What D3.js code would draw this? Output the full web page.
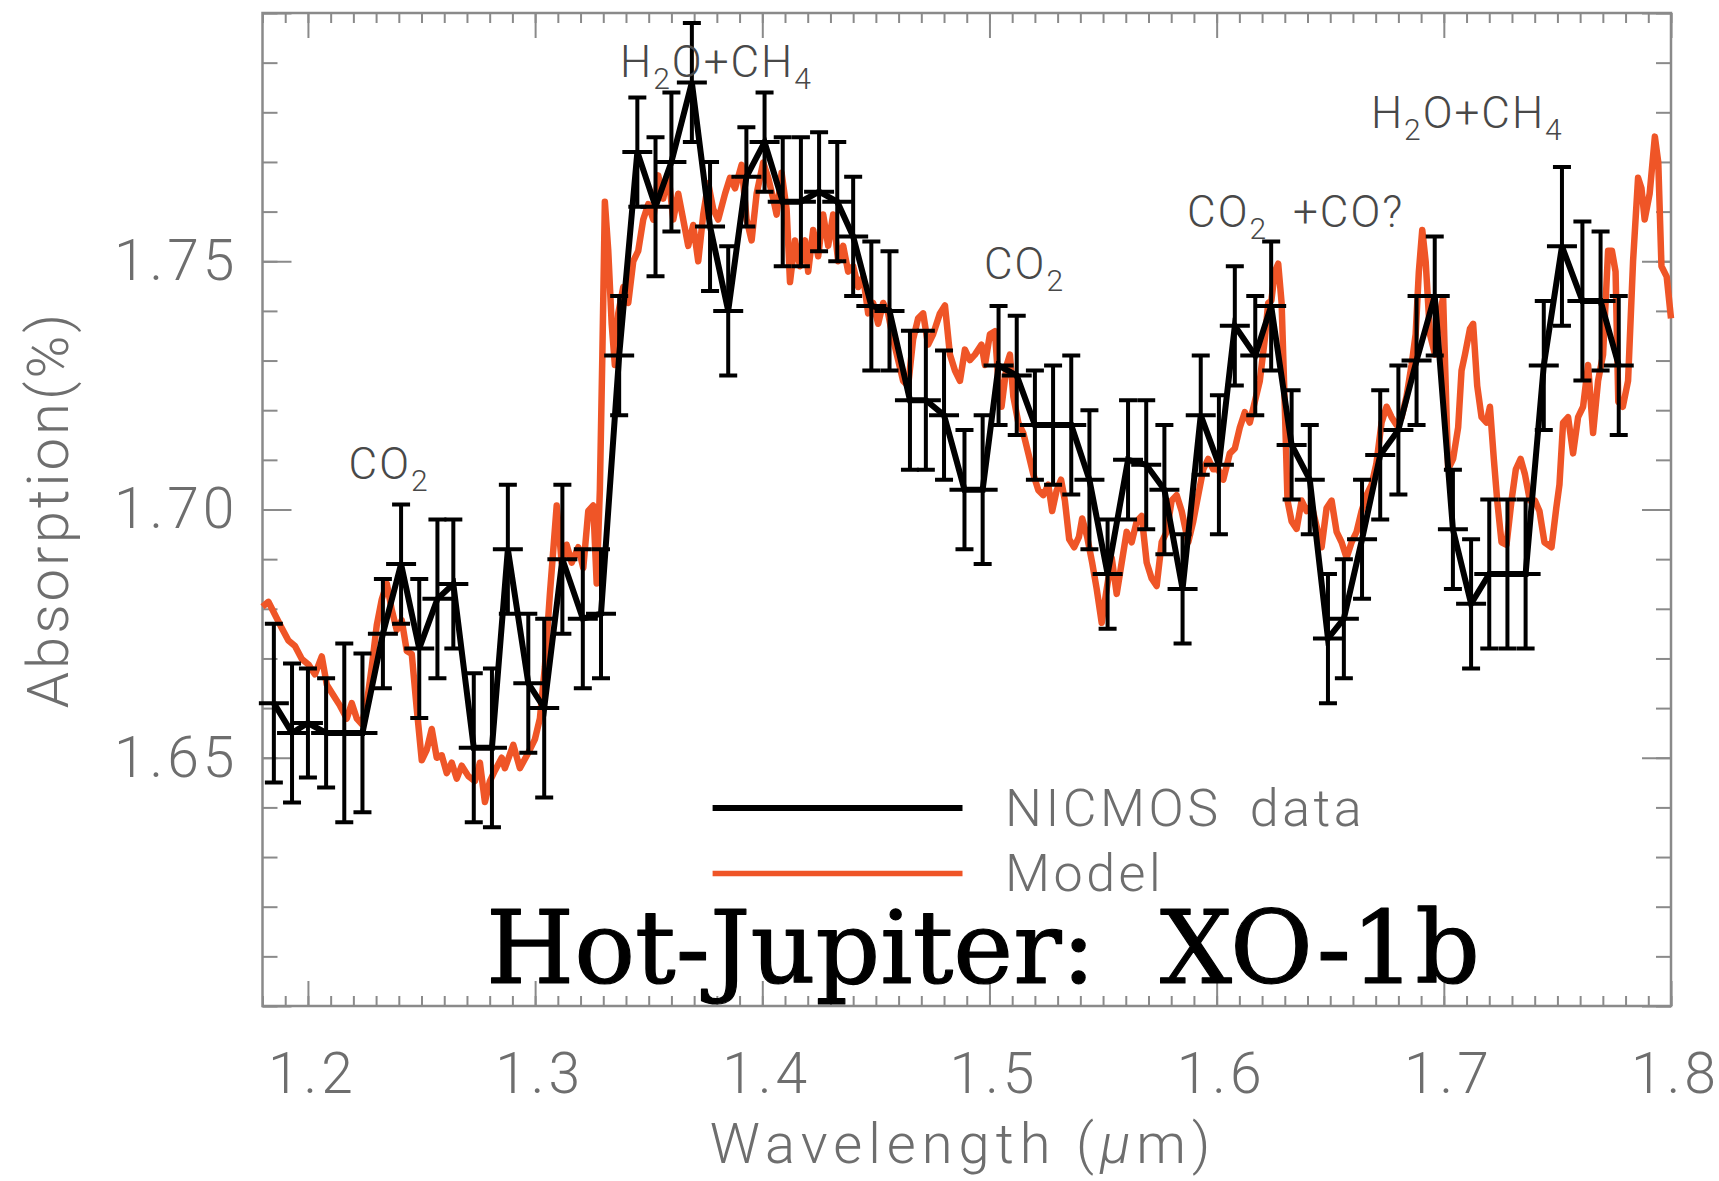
<!DOCTYPE html>
<html>
<head>
<meta charset="utf-8">
<script src="https://cdn.jsdelivr.net/npm/d3@7"></script>
<style>
  body { margin: 0; background: #fff; }
  .idl { font-family: Roboto, "Liberation Sans", Arial, sans-serif; font-weight: 300; }
</style>
</head>
<body>
<div id="chart"></div>
<script>

// NICMOS transmission points (wavelength in micron, absorption in %, 1-sigma error)
var dataWave = [1.185, 1.193, 1.200, 1.208, 1.216, 1.224, 1.233, 1.241, 1.249, 1.257,
  1.264, 1.273, 1.281, 1.288, 1.297, 1.304, 1.312, 1.321, 1.329, 1.337,
  1.345, 1.353, 1.360, 1.369, 1.377, 1.385, 1.393, 1.401, 1.409, 1.417,
  1.425, 1.433, 1.440, 1.448, 1.456, 1.465, 1.472, 1.480, 1.489, 1.497,
  1.504, 1.512, 1.520, 1.528, 1.536, 1.544, 1.552, 1.561, 1.569, 1.577,
  1.585, 1.593, 1.601, 1.608, 1.617, 1.624, 1.633, 1.641, 1.649, 1.656,
  1.664, 1.672, 1.680, 1.688, 1.696, 1.704, 1.712, 1.720, 1.728, 1.736,
  1.744, 1.752, 1.761, 1.769, 1.777];
var dataAbs = [1.661, 1.655, 1.657, 1.655, 1.655, 1.655, 1.675, 1.689, 1.672, 1.682,
  1.685, 1.652, 1.652, 1.692, 1.665, 1.660, 1.690, 1.678, 1.679, 1.731,
  1.772, 1.761, 1.770, 1.786, 1.757, 1.740, 1.767, 1.774, 1.762, 1.762,
  1.764, 1.762, 1.755, 1.741, 1.740, 1.722, 1.722, 1.719, 1.704, 1.704,
  1.729, 1.727, 1.717, 1.717, 1.717, 1.706, 1.687, 1.710, 1.709, 1.704,
  1.684, 1.719, 1.709, 1.737, 1.731, 1.741, 1.713, 1.706, 1.674, 1.678,
  1.694, 1.711, 1.716, 1.730, 1.743, 1.696, 1.681, 1.687, 1.687, 1.687,
  1.729, 1.753, 1.742, 1.742, 1.729];
var dataErr = [0.016, 0.014, 0.011, 0.011, 0.018, 0.016, 0.011, 0.012, 0.014, 0.016,
  0.013, 0.015, 0.016, 0.013, 0.014, 0.018, 0.015, 0.014, 0.013, 0.012,
  0.011, 0.014, 0.014, 0.012, 0.013, 0.013, 0.010, 0.010, 0.013, 0.013,
  0.012, 0.012, 0.012, 0.013, 0.012, 0.014, 0.014, 0.013, 0.012, 0.015,
  0.012, 0.012, 0.011, 0.012, 0.014, 0.014, 0.011, 0.012, 0.013, 0.013,
  0.011, 0.012, 0.014, 0.012, 0.012, 0.013, 0.011, 0.011, 0.013, 0.012,
  0.012, 0.013, 0.013, 0.013, 0.012, 0.012, 0.013, 0.015, 0.015, 0.015,
  0.013, 0.016, 0.016, 0.014, 0.014];

// Model spectrum
var modelWave = [1.1800, 1.1826, 1.1855, 1.1884, 1.1914, 1.1943, 1.1973, 1.2002, 1.2031, 1.2061,
  1.2083, 1.2112, 1.2141, 1.2171, 1.2193, 1.2215, 1.2237, 1.2259, 1.2281, 1.2303,
  1.2325, 1.2347, 1.2369, 1.2391, 1.2413, 1.2435, 1.2457, 1.2479, 1.2501, 1.2523,
  1.2545, 1.2567, 1.2589, 1.2611, 1.2633, 1.2655, 1.2677, 1.2706, 1.2735, 1.2757,
  1.2779, 1.2801, 1.2823, 1.2853, 1.2867, 1.2904, 1.2933, 1.2970, 1.2999, 1.3021,
  1.3043, 1.3065, 1.3095, 1.3117, 1.3139, 1.3161, 1.3190, 1.3212, 1.3234, 1.3256,
  1.3271, 1.3285, 1.3296, 1.3307, 1.3322, 1.3337, 1.3351, 1.3366, 1.3388, 1.3410,
  1.3432, 1.3454, 1.3476, 1.3498, 1.3520, 1.3542, 1.3564, 1.3586, 1.3608, 1.3630,
  1.3652, 1.3674, 1.3696, 1.3718, 1.3740, 1.3762, 1.3784, 1.3806, 1.3836, 1.3858,
  1.3880, 1.3909, 1.3931, 1.3953, 1.3975, 1.4004, 1.4026, 1.4048, 1.4063, 1.4085,
  1.4107, 1.4122, 1.4144, 1.4166, 1.4188, 1.4202, 1.4224, 1.4246, 1.4268, 1.4290,
  1.4312, 1.4334, 1.4356, 1.4378, 1.4400, 1.4422, 1.4444, 1.4466, 1.4488, 1.4510,
  1.4532, 1.4554, 1.4576, 1.4598, 1.4620, 1.4642, 1.4664, 1.4686, 1.4708, 1.4730,
  1.4752, 1.4782, 1.4804, 1.4826, 1.4848, 1.4870, 1.4892, 1.4914, 1.4936, 1.4965,
  1.4980, 1.5002, 1.5024, 1.5039, 1.5053, 1.5076, 1.5090, 1.5105, 1.5127, 1.5149,
  1.5171, 1.5193, 1.5215, 1.5237, 1.5259, 1.5276, 1.5296, 1.5315, 1.5332, 1.5351,
  1.5373, 1.5394, 1.5408, 1.5430, 1.5452, 1.5472, 1.5494, 1.5516, 1.5538, 1.5560,
  1.5582, 1.5604, 1.5626, 1.5648, 1.5670, 1.5692, 1.5714, 1.5736, 1.5758, 1.5780,
  1.5802, 1.5824, 1.5846, 1.5875, 1.5897, 1.5919, 1.5941, 1.5963, 1.5985, 1.6007,
  1.6029, 1.6058, 1.6080, 1.6102, 1.6124, 1.6146, 1.6168, 1.6190, 1.6212, 1.6227,
  1.6241, 1.6256, 1.6271, 1.6286, 1.6300, 1.6312, 1.6330, 1.6352, 1.6374, 1.6396,
  1.6418, 1.6440, 1.6462, 1.6484, 1.6506, 1.6528, 1.6550, 1.6572, 1.6594, 1.6616,
  1.6638, 1.6660, 1.6682, 1.6703, 1.6726, 1.6748, 1.6770, 1.6792, 1.6814, 1.6836,
  1.6858, 1.6876, 1.6890, 1.6905, 1.6920, 1.6939, 1.6961, 1.6983, 1.6997, 1.7019,
  1.7041, 1.7063, 1.7078, 1.7093, 1.7115, 1.7129, 1.7147, 1.7166, 1.7188, 1.7203,
  1.7220, 1.7235, 1.7254, 1.7276, 1.7298, 1.7317, 1.7338, 1.7357, 1.7379, 1.7401,
  1.7421, 1.7443, 1.7474, 1.7495, 1.7509, 1.7525, 1.7547, 1.7569, 1.7591, 1.7613,
  1.7635, 1.7657, 1.7679, 1.7701, 1.7723, 1.7740, 1.7756, 1.7768, 1.7788, 1.7811,
  1.7833, 1.7855, 1.7870, 1.7884, 1.7906, 1.7929, 1.7944, 1.7958, 1.7981, 1.8000];
var modelAbs = [1.6804, 1.6814, 1.6788, 1.6762, 1.6736, 1.6725, 1.6699, 1.6688, 1.6668, 1.6704,
  1.6647, 1.6626, 1.6605, 1.6579, 1.6610, 1.6579, 1.6568, 1.6610, 1.6683, 1.6767,
  1.6819, 1.6851, 1.6798, 1.6757, 1.6777, 1.6715, 1.6709, 1.6599, 1.6495, 1.6516,
  1.6558, 1.6500, 1.6505, 1.6469, 1.6490, 1.6458, 1.6484, 1.6463, 1.6453, 1.6490,
  1.6411, 1.6453, 1.6474, 1.6500, 1.6479, 1.6526, 1.6479, 1.6510, 1.6537, 1.6579,
  1.6683, 1.6830, 1.7008, 1.6893, 1.6929, 1.6893, 1.6924, 1.6882, 1.6997, 1.7008,
  1.6851, 1.7039, 1.7312, 1.7620, 1.7521, 1.7374, 1.7291, 1.7395, 1.7448, 1.7416,
  1.7500, 1.7521, 1.7584, 1.7615, 1.7584, 1.7673, 1.7626, 1.7678, 1.7584, 1.7636,
  1.7584, 1.7531, 1.7573, 1.7500, 1.7594, 1.7657, 1.7605, 1.7584, 1.7636, 1.7668,
  1.7647, 1.7694, 1.7584, 1.7542, 1.7636, 1.7699, 1.7668, 1.7626, 1.7594, 1.7678,
  1.7605, 1.7458, 1.7542, 1.7490, 1.7542, 1.7479, 1.7563, 1.7510, 1.7594, 1.7531,
  1.7594, 1.7500, 1.7531, 1.7479, 1.7490, 1.7448, 1.7469, 1.7395, 1.7416, 1.7374,
  1.7416, 1.7395, 1.7343, 1.7301, 1.7259, 1.7249, 1.7343, 1.7385, 1.7395, 1.7332,
  1.7353, 1.7395, 1.7411, 1.7312, 1.7280, 1.7259, 1.7322, 1.7301, 1.7312, 1.7332,
  1.7291, 1.7353, 1.7359, 1.7259, 1.7207, 1.7291, 1.7312, 1.7228, 1.7175, 1.7154,
  1.7113, 1.7071, 1.7039, 1.7029, 1.7050, 1.6997, 1.7039, 1.7060, 1.7018, 1.6940,
  1.6924, 1.6945, 1.6982, 1.6945, 1.6893, 1.6840, 1.6772, 1.6840, 1.6903, 1.6830,
  1.6893, 1.6955, 1.6934, 1.6976, 1.6987, 1.6893, 1.6861, 1.6846, 1.6934, 1.6955,
  1.7018, 1.7029, 1.6997, 1.6934, 1.6976, 1.7029, 1.7081, 1.7102, 1.7081, 1.7081,
  1.7060, 1.7113, 1.7123, 1.7165, 1.7196, 1.7175, 1.7217, 1.7259, 1.7343, 1.7416,
  1.7421, 1.7479, 1.7495, 1.7416, 1.7207, 1.7018, 1.6976, 1.6961, 1.7018, 1.6997,
  1.7008, 1.6966, 1.6924, 1.7003, 1.7018, 1.6955, 1.6934, 1.6903, 1.6934, 1.6955,
  1.6997, 1.7029, 1.7050, 1.7092, 1.7175, 1.7207, 1.7186, 1.7170, 1.7186, 1.7228,
  1.7291, 1.7353, 1.7479, 1.7563, 1.7500, 1.7353, 1.7312, 1.7395, 1.7427, 1.7081,
  1.7102, 1.7165, 1.7280, 1.7312, 1.7364, 1.7374, 1.7249, 1.7186, 1.7175, 1.7207,
  1.7102, 1.7018, 1.6934, 1.6929, 1.7018, 1.7081, 1.7102, 1.7071, 1.7018, 1.7018,
  1.6997, 1.6934, 1.6924, 1.7003, 1.7050, 1.7175, 1.7186, 1.7113, 1.7186, 1.7207,
  1.7291, 1.7154, 1.7259, 1.7312, 1.7521, 1.7521, 1.7479, 1.7217, 1.7207, 1.7259,
  1.7500, 1.7668, 1.7647, 1.7584, 1.7636, 1.7751, 1.7699, 1.7490, 1.7469, 1.7385];

// Tick labels
var xTickLabels = [1.2, 1.3, 1.4, 1.5, 1.6, 1.7, 1.8];
var yTickLabels = [1.65, 1.70, 1.75];

// Configuration.
var width = 1719,
    height = 1181,
    axisColor = "#8a8a8a",
    labelColor = "#6e6e6e",
    noteColor = "#484848",
    modelColor = "#ef5527";

var svg = d3.select("#chart").append("svg")
  .attr("width", width)
  .attr("height", height)
  .style("background", "#fff");

var x = d3.scaleLinear().domain([1.18, 1.80]).range([262.5, 1671]),
    y = d3.scaleLinear().domain([1.60, 1.80]).range([1006, 13]);

// Frame with inward IDL style ticks on all four sides.
svg.append("rect")
  .attr("x", x(1.18))
  .attr("y", y(1.80))
  .attr("width", x(1.80) - x(1.18))
  .attr("height", y(1.60) - y(1.80))
  .attr("fill", "none")
  .attr("stroke", axisColor)
  .attr("stroke-width", 2.5);

var xMinor = d3.range(118, 181).map(function (d){ return d / 100; }),
    xMajor = xTickLabels,
    yMinor = d3.range(160, 181).map(function (d){ return d / 100; }),
    yMajor = [1.60, 1.65, 1.70, 1.75, 1.80];

function drawTicks(axis, tx, ty){
  var g = svg.append("g")
    .attr("transform", "translate(" + tx + "," + ty + ")")
    .call(axis);
  g.select(".domain").remove();
  g.selectAll(".tick line")
    .attr("stroke", axisColor)
    .attr("stroke-width", 2);
  return g;
}

drawTicks(d3.axisBottom(x).tickValues(xMinor).tickSize(-10).tickFormat(""), 0, y(1.60));
drawTicks(d3.axisBottom(x).tickValues(xMajor).tickSize(-25).tickFormat(""), 0, y(1.60));
drawTicks(d3.axisTop(x).tickValues(xMinor).tickSize(-10).tickFormat(""), 0, y(1.80));
drawTicks(d3.axisTop(x).tickValues(xMajor).tickSize(-25).tickFormat(""), 0, y(1.80));
drawTicks(d3.axisLeft(y).tickValues(yMinor).tickSize(-15).tickFormat(""), x(1.18), 0);
drawTicks(d3.axisLeft(y).tickValues(yMajor).tickSize(-29).tickFormat(""), x(1.18), 0);
drawTicks(d3.axisRight(y).tickValues(yMinor).tickSize(-15).tickFormat(""), x(1.80), 0);
drawTicks(d3.axisRight(y).tickValues(yMajor).tickSize(-29).tickFormat(""), x(1.80), 0);

// Tick labels.
var xLabels = drawTicks(d3.axisBottom(x).tickValues(xTickLabels).tickSize(0)
    .tickPadding(47).tickFormat(d3.format(".1f")), 0, y(1.60));
var yLabels = drawTicks(d3.axisLeft(y).tickValues(yTickLabels).tickSize(0)
    .tickPadding(24).tickFormat(d3.format(".2f")), x(1.18), 0);
[xLabels, yLabels].forEach(function (g){
  g.attr("font-family", null).attr("font-size", 57).attr("class", "idl");
  g.selectAll("text")
    .attr("fill", labelColor)
    .style("letter-spacing", "4px");
});
xLabels.selectAll("text").attr("dx", 4);

// Axis titles.
svg.append("text")
  .attr("class", "idl")
  .attr("transform", "translate(68," + y(1.70) + ") rotate(-90)")
  .attr("text-anchor", "middle")
  .attr("font-size", 58)
  .attr("fill", labelColor)
  .style("letter-spacing", "3px")
  .text("Absorption(%)");

var xTitle = svg.append("text")
  .attr("class", "idl")
  .attr("x", 963)
  .attr("y", 1163)
  .attr("text-anchor", "middle")
  .attr("font-size", 56)
  .attr("fill", labelColor)
  .style("letter-spacing", "6px");
xTitle.append("tspan").text("Wavelength (");
xTitle.append("tspan").attr("font-style", "italic").text("\u00b5");
xTitle.append("tspan").text("m)");

// Model curve.
var modelPoints = modelWave.map(function (w, i){ return [w, modelAbs[i]]; });
var line = d3.line()
  .x(function (d){ return x(d[0]); })
  .y(function (d){ return y(d[1]); });

svg.append("path")
  .datum(modelPoints)
  .attr("d", line)
  .attr("fill", "none")
  .attr("stroke", modelColor)
  .attr("stroke-width", 6.5)
  .attr("stroke-linejoin", "round");

// NICMOS data: connecting line plus error bars.
var points = dataWave.map(function (w, i){
  return { w: w, v: dataAbs[i], e: dataErr[i] };
});

svg.append("path")
  .datum(points.map(function (d){ return [d.w, d.v]; }))
  .attr("d", line)
  .attr("fill", "none")
  .attr("stroke", "#000")
  .attr("stroke-width", 6)
  .attr("stroke-linejoin", "miter")
  .attr("stroke-miterlimit", 3);

svg.append("g")
  .attr("stroke", "#000")
  .attr("stroke-width", 4)
  .attr("fill", "none")
  .selectAll("path")
  .data(points)
  .enter().append("path")
  .attr("d", function (d){
    var cx = x(d.w),
        top = y(d.v + d.e),
        bot = y(d.v - d.e),
        mid = y(d.v),
        cap = 9,
        bar = 15;
    return "M" + cx + "," + top + "V" + bot +
      "M" + (cx - cap) + "," + top + "H" + (cx + cap) +
      "M" + (cx - cap) + "," + bot + "H" + (cx + cap) +
      "M" + (cx - bar) + "," + mid + "H" + (cx + bar);
  });

// Molecule annotations.
function note(w, v, parts){
  var t = svg.append("text")
    .attr("class", "idl")
    .attr("x", x(w))
    .attr("y", y(v))
    .attr("font-size", 44)
    .attr("fill", noteColor)
    .style("letter-spacing", "2px");
  parts.forEach(function (p){
    var s = t.append("tspan").text(p.t);
    if(p.sub){
      s.attr("font-size", 30).attr("dy", 12);
    } else if(p.after){
      s.attr("dy", -12);
    }
    if(p.x){ s.attr("x", x(p.x)); }
  });
}

note(1.2179, 1.7061, [{t: "CO"}, {t: "2", sub: true}]);
note(1.3374, 1.7871, [{t: "H"}, {t: "2", sub: true}, {t: "O+CH", after: true}, {t: "4", sub: true}]);
note(1.4976, 1.7464, [{t: "CO"}, {t: "2", sub: true}]);
note(1.5870, 1.7569, [{t: "CO"}, {t: "2", sub: true}, {t: "+CO?", after: true, x: 1.6336}]);
note(1.6679, 1.7768, [{t: "H"}, {t: "2", sub: true}, {t: "O+CH", after: true}, {t: "4", sub: true}]);

// Legend.
var legend = svg.append("g");
[["NICMOS data", "#000", 808, 826, 6], ["Model", modelColor, 873.5, 891, 5.5]].forEach(function (d){
  legend.append("line")
    .attr("x1", 712.6).attr("x2", 962.5)
    .attr("y1", d[2]).attr("y2", d[2])
    .attr("stroke", d[1])
    .attr("stroke-width", d[4]);
  legend.append("text")
    .attr("class", "idl")
    .attr("x", 1005)
    .attr("y", d[3])
    .attr("font-size", 52)
    .attr("fill", labelColor)
    .style("letter-spacing", "3.5px")
    .style("word-spacing", "12px")
    .text(d[0]);
});

// Slide title.
svg.append("text")
  .attr("x", 486)
  .attr("y", 983)
  .attr("font-family", "DejaVu Serif, serif")
  .attr("font-size", 101)
  .attr("fill", "#000")
  .attr("stroke", "#000")
  .attr("stroke-width", 1.2)
  .attr("stroke-linejoin", "round")
  .attr("textLength", 994)
  .attr("lengthAdjust", "spacingAndGlyphs")
  .text("Hot-Jupiter:\u00a0 XO-1b");

</script>
</body>
</html>
